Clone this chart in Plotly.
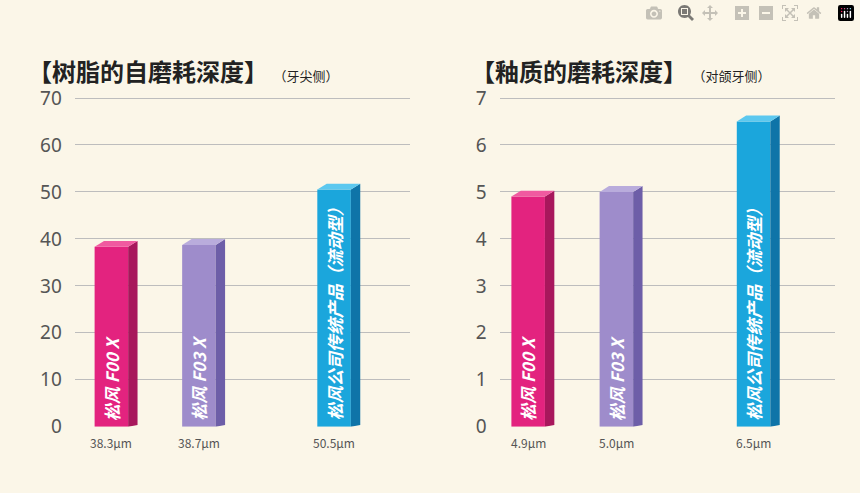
import plotly.graph_objects as go

names = ["松风 F00 X", "松风 F03 X", "松风公司传统产品（流动型）"]
resin = [38.3, 38.7, 50.5]
enamel = [4.9, 5.0, 6.5]
resin_labels = ["38.3μm", "38.7μm", "50.5μm"]
enamel_labels = ["4.9μm", "5.0μm", "6.5μm"]
pos_left = [1.09, 3.7, 7.73]
pos_right = [0.85, 3.48, 7.57]
front = ["#e3237f", "#9e8ccb", "#1ba6dc"]
side = ["#a8175c", "#6d5ea8", "#0f74a8"]
top = ["#f05aa0", "#b9acdc", "#5cc8ef"]

W = 1.0; D = 0.28
fig = go.Figure()

def bars(xs, vals, xa, ya, ymax):
    rise = ymax * 0.018
    for i, (c, v) in enumerate(zip(xs, vals)):
        x0, x1 = c - W/2, c + W/2
        fig.add_trace(go.Scatter(x=[x0, x1, x1, x0, x0], y=[0, 0, v, v, 0], fill="toself",
            fillcolor=front[i], line=dict(width=0), mode="lines", xaxis=xa, yaxis=ya, hoverinfo="skip"))
        fig.add_trace(go.Scatter(x=[x1, x1+D, x1+D, x1, x1], y=[0, rise*0.3, v+rise, v, 0], fill="toself",
            fillcolor=side[i], line=dict(width=0), mode="lines", xaxis=xa, yaxis=ya, hoverinfo="skip"))
        fig.add_trace(go.Scatter(x=[x0, x1, x1+D, x0+D, x0], y=[v, v, v+rise, v+rise, v], fill="toself",
            fillcolor=top[i], line=dict(width=0), mode="lines", xaxis=xa, yaxis=ya, hoverinfo="skip"))
        fig.add_annotation(x=c, y=ymax*0.012, xref=xa, yref=ya, text="<b>" + names[i] + "</b>", textangle=-90,
            showarrow=False, xanchor="center", yanchor="bottom",
            font=dict(color="white", size=17, family="Noto Sans CJK SC", style="italic"))

bars(pos_left, resin, "x", "y", 70)
bars(pos_right, enamel, "x2", "y2", 7)

for xs, labs, xa in [(pos_left, resin_labels, "x"), (pos_right, enamel_labels, "x2")]:
    for c, t in zip(xs, labs):
        fig.add_annotation(x=c, y=0.057, xref=xa, yref="paper", text=t, showarrow=False,
                           font=dict(size=12, color="#555", family="Noto Sans CJK SC"))

fig.add_annotation(x=0.03, y=0.915, xref="paper", yref="paper", xanchor="left", showarrow=False,
    text="<b>【树脂的自磨耗深度】</b> <span style='font-size:13px'>（牙尖侧）</span>",
    font=dict(size=24, color="#222", family="Noto Sans CJK SC"))
fig.add_annotation(x=0.545, y=0.915, xref="paper", yref="paper", xanchor="left", showarrow=False,
    text="<b>【釉质的磨耗深度】</b> <span style='font-size:13px'>（对颌牙侧）</span>",
    font=dict(size=24, color="#222", family="Noto Sans CJK SC"))

ax = dict(showgrid=False, zeroline=False, showticklabels=False, range=[0, 10])
ay = dict(showgrid=True, gridcolor="#bdbdbd", gridwidth=1, zeroline=False,
          tickfont=dict(size=19, color="#555", family="Noto Sans"), ticklabelstandoff=12,
          domain=[0.1136, 0.8195])
fig.update_layout(
    width=860, height=493, margin=dict(l=0, r=0, t=0, b=0), showlegend=False,
    paper_bgcolor="#fbf6e8", plot_bgcolor="#fbf6e8",
    xaxis=dict(ax, domain=[0.087, 0.477]),
    xaxis2=dict(ax, domain=[0.581, 0.971]),
    yaxis=dict(ay, range=[0, 70.5], dtick=10, anchor="x"),
    yaxis2=dict(ay, range=[0, 7.05], dtick=1, anchor="x2"),
)
fig.write_html("out.html", post_script="document.body.style.margin='0';document.body.style.overflow='hidden';")
